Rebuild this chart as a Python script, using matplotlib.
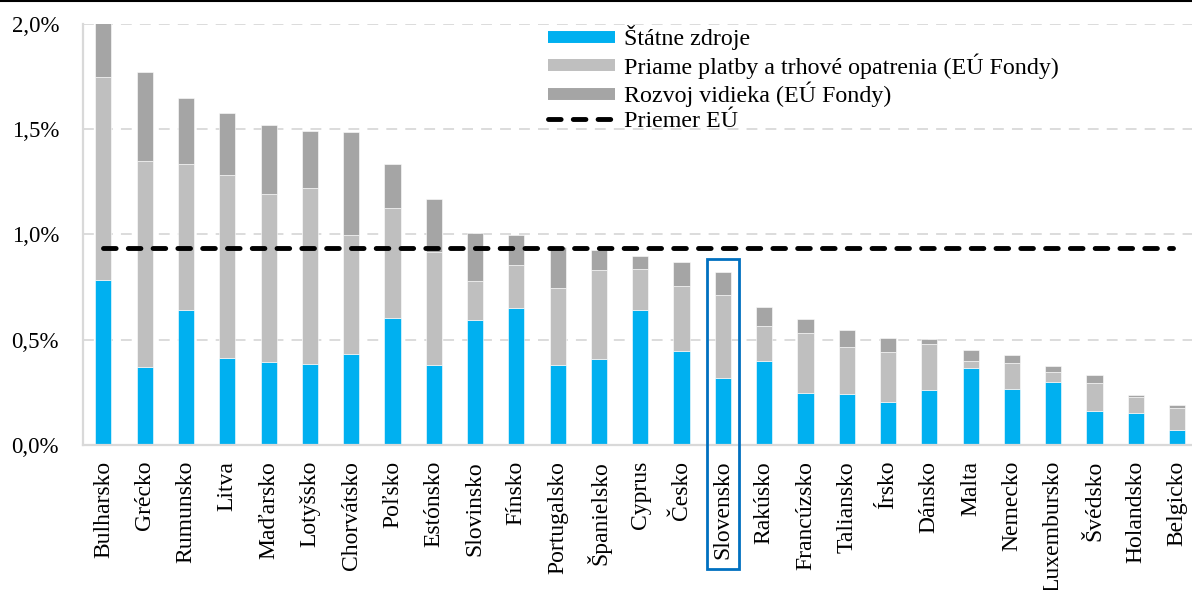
import matplotlib.pyplot as plt
import matplotlib.transforms as mtransforms
from matplotlib.lines import Line2D
from matplotlib.patches import Rectangle
from matplotlib.ticker import FuncFormatter
import numpy as np

countries = ["Bulharsko", "Grécko", "Rumunsko", "Litva", "Maďarsko", "Lotyšsko",
             "Chorvátsko", "Poľsko", "Estónsko", "Slovinsko", "Fínsko", "Portugalsko",
             "Španielsko", "Cyprus", "Česko", "Slovensko", "Rakúsko", "Francúzsko",
             "Taliansko", "Írsko", "Dánsko", "Malta", "Nemecko", "Luxembursko",
             "Švédsko", "Holandsko", "Belgicko"]

# % of GDP
state = [0.784, 0.371, 0.641, 0.415, 0.396, 0.386, 0.432, 0.603, 0.380, 0.594,
         0.651, 0.380, 0.407, 0.640, 0.447, 0.318, 0.399, 0.247, 0.242, 0.206,
         0.263, 0.367, 0.264, 0.301, 0.162, 0.154, 0.071]
direct = [0.964, 0.977, 0.694, 0.868, 0.796, 0.836, 0.566, 0.523, 0.537, 0.185,
          0.204, 0.366, 0.424, 0.196, 0.308, 0.395, 0.166, 0.287, 0.224, 0.237,
          0.218, 0.032, 0.127, 0.046, 0.131, 0.075, 0.106]
rural = [0.262, 0.421, 0.312, 0.291, 0.328, 0.268, 0.489, 0.209, 0.252, 0.227,
         0.141, 0.196, 0.095, 0.062, 0.114, 0.110, 0.091, 0.066, 0.080, 0.064,
         0.023, 0.052, 0.035, 0.028, 0.038, 0.009, 0.014]
eu_avg = 0.937

labels = ["Štátne zdroje", "Priame platby a trhové opatrenia (EÚ Fondy)",
          "Rozvoj vidieka (EÚ Fondy)", "Priemer EÚ"]
highlight = "Slovensko"

c_blue = "#00B0F0"
c_light = "#BFBFBF"
c_dark = "#A5A5A5"
c_grid = "#D9D9D9"

plt.rcParams['font.family'] = ['Liberation Serif', 'DejaVu Serif']

fig = plt.figure(figsize=(11.92, 5.90), dpi=100)
ax = fig.add_axes([0.0694, 0.2458, 0.9306, 0.714])

x = np.arange(len(countries))
w = 0.39
s = np.array(state)
d = np.array(direct)
r = np.array(rural)
ax.bar(x, s, w, color=c_blue, edgecolor="white", linewidth=0.4, zorder=2)
ax.bar(x, d, w, bottom=s, color=c_light, edgecolor="white", linewidth=0.4, zorder=2)
ax.bar(x, r, w, bottom=s + d, color=c_dark, edgecolor="white", linewidth=0.4, zorder=2)

ax.hlines(eu_avg, x[0], x[-1] - 0.1, colors="black", linewidth=3.5,
          linestyles=(0, (2.6, 2.5)), capstyle="round", zorder=3)

ax.set_xlim(-0.5, 26.36)
ax.set_ylim(0, 2.0)
ax.set_yticks([0, 0.5, 1.0, 1.5, 2.0])
ax.yaxis.set_major_formatter(FuncFormatter(lambda v, p: f"{v:.1f}%".replace(".", ",")))
ax.yaxis.grid(True, color=c_grid, linewidth=1.3, linestyle=(0, (6, 4.5)), zorder=0)
ax.set_axisbelow(True)
ax.set_xticks(x)
ax.set_xticklabels(countries, rotation=90, fontsize=17)
ax.tick_params(axis="x", length=0, pad=11.5)
ax.tick_params(axis="y", length=0, pad=17, labelsize=16.5)
for sp in ["top", "right"]:
    ax.spines[sp].set_visible(False)
for sp in ["left", "bottom"]:
    ax.spines[sp].set_color(c_grid)
    ax.spines[sp].set_linewidth(1.6)

# box around Slovakia
i = countries.index(highlight)
trans = mtransforms.blended_transform_factory(ax.transData, ax.transAxes)
top = (s[i] + d[i] + r[i] + 0.06) / 2.0
box = Rectangle((i - 0.39, -0.294), 0.78, top + 0.294, transform=trans,
                fill=False, edgecolor="#0070C0", linewidth=2.0, clip_on=False, zorder=4)
ax.add_patch(box)

handles = [Line2D([], [], color=c_blue, linewidth=8.6, solid_capstyle="butt"),
           Line2D([], [], color=c_light, linewidth=8.6, solid_capstyle="butt"),
           Line2D([], [], color=c_dark, linewidth=8.6, solid_capstyle="butt"),
           Line2D([], [], color="black", linewidth=3.5, linestyle=(0, (2.6, 2.5)),
                  dash_capstyle="round")]
fig.legend(handles, labels, loc="upper left", bbox_to_anchor=(548 / 1192, 1 - 25 / 590),
           frameon=False, fontsize=17.3, handlelength=2.8, handletextpad=0.35,
           labelspacing=0.13, borderpad=0, borderaxespad=0)

# thin black rule at the very top
fig.add_artist(Line2D([0, 1], [0.998, 0.998], transform=fig.transFigure,
                      color="black", linewidth=1.5))

fig.savefig("out.png", dpi=100)
